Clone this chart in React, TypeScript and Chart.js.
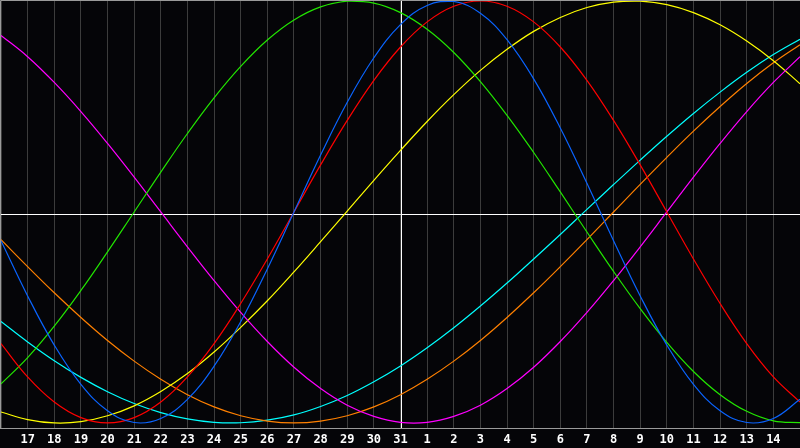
import React, { useEffect, useRef } from "react";
import { Chart, registerables } from "chart.js";

Chart.register(...registerables);

// Tick labels: one per day, first label sits at x = 0
const dayLabels = [
  "17", "18", "19", "20", "21", "22", "23", "24", "25", "26", "27", "28", "29", "30", "31",
  "1", "2", "3", "4", "5", "6", "7", "8", "9", "10", "11", "12", "13", "14",
];
// index of "today" (31) in dayLabels
const todayIndex = 14;
const midlineValue = -0.01;

// Series values, one per day from the day before "17" (x = -1) to the day after "14" (x = 29)
const physical = [
  -0.136, -0.398, -0.631, -0.817, -0.942, -0.998, -0.979, -0.888, -0.731, -0.52, -0.27,
  0, 0.27, 0.52, 0.731, 0.888, 0.979, 0.998, 0.942, 0.817, 0.631, 0.398, 0.136,
  -0.136, -0.398, -0.631, -0.817, -0.942, -0.998, -0.979, -0.888,
];
const emotional = [
  -0.624, -0.782, -0.901, -0.975, -1.0, -0.975, -0.901, -0.782, -0.624, -0.434, -0.223,
  0, 0.223, 0.434, 0.624, 0.782, 0.901, 0.975, 1.0, 0.975, 0.901, 0.782, 0.624, 0.434, 0.223,
  0, -0.223, -0.434, -0.624, -0.782, -0.901,
];
const intellectual = [
  -0.815, -0.69, -0.541, -0.372, -0.189, 0, 0.189, 0.372, 0.541, 0.69, 0.815,
  0.91, 0.972, 0.999, 0.99, 0.945, 0.866, 0.756, 0.618, 0.458, 0.282, 0.095,
  -0.095, -0.282, -0.458, -0.618, -0.756, -0.866, -0.945, -0.99, -0.999,
];
const intuitive = [
  0.837, 0.736, 0.614, 0.476, 0.325, 0.165, 0, -0.165, -0.325, -0.476, -0.614,
  -0.736, -0.837, -0.916, -0.969, -0.997, -0.997, -0.969, -0.916, -0.837, -0.736,
  -0.614, -0.476, -0.325, -0.165, 0, 0.165, 0.325, 0.476, 0.614, 0.736,
];
const aesthetic = [
  -0.948, -0.984, -1.0, -0.994, -0.966, -0.919, -0.851, -0.766, -0.664, -0.547, -0.421,
  -0.284, -0.141, 0.004, 0.15, 0.292, 0.429, 0.556, 0.671, 0.771, 0.856, 0.922,
  0.969, 0.995, 0.999, 0.983, 0.945, 0.887, 0.81, 0.717, 0.608,
];
const awareness = [
  -0.131, -0.259, -0.383, -0.5, -0.609, -0.707, -0.793, -0.866, -0.924, -0.966, -0.991,
  -1.0, -0.991, -0.966, -0.924, -0.866, -0.793, -0.707, -0.609, -0.5, -0.383, -0.259,
  -0.131, 0, 0.131, 0.259, 0.383, 0.5, 0.609, 0.707, 0.793,
];
const spiritual = [
  -0.519, -0.616, -0.705, -0.784, -0.852, -0.908, -0.951, -0.981, -0.997, -0.999, -0.987,
  -0.962, -0.922, -0.87, -0.805, -0.73, -0.644, -0.549, -0.446, -0.337, -0.223, -0.107,
  0.012, 0.13, 0.246, 0.359, 0.467, 0.568, 0.662, 0.746, 0.819,
];

const seriesList = [
  { name: "Physical", values: physical, color: "#0a64ff" },
  { name: "Emotional", values: emotional, color: "#ff0000" },
  { name: "Intellectual", values: intellectual, color: "#22e600" },
  { name: "Intuitive", values: intuitive, color: "#ff00ff" },
  { name: "Aesthetic", values: aesthetic, color: "#ffff00" },
  { name: "Awareness", values: awareness, color: "#ff8000" },
  { name: "Spiritual", values: spiritual, color: "#00ffff" },
];

const framePlugin = {
  id: "frame",
  beforeDraw(chart: any) {
    const ctx = chart.ctx;
    ctx.save();
    ctx.fillStyle = "#050508";
    ctx.fillRect(0, 0, chart.width, chart.height);
    ctx.restore();
  },
  beforeDatasetsDraw(chart: any) {
    const { ctx, chartArea, scales } = chart;
    const xp = Math.round(scales.x.getPixelForValue(todayIndex)) + 0.5;
    const yp = Math.round(scales.y.getPixelForValue(midlineValue)) + 0.5;
    ctx.save();
    ctx.strokeStyle = "#ffffff";
    ctx.lineWidth = 1;
    ctx.beginPath();
    ctx.moveTo(xp, chartArea.top);
    ctx.lineTo(xp, chartArea.bottom);
    ctx.moveTo(chartArea.left, yp);
    ctx.lineTo(chartArea.right, yp);
    ctx.stroke();
    ctx.restore();
  },
  afterDraw(chart: any) {
    const { ctx, chartArea } = chart;
    ctx.save();
    ctx.strokeStyle = "#9a9a9a";
    ctx.lineWidth = 1;
    ctx.beginPath();
    ctx.moveTo(0.5, chartArea.bottom + 0.5);
    ctx.lineTo(0.5, 0.5);
    ctx.lineTo(chartArea.right, 0.5);
    ctx.moveTo(0, chartArea.bottom + 0.5);
    ctx.lineTo(chartArea.right, chartArea.bottom + 0.5);
    ctx.stroke();
    ctx.restore();
  },
};

export default function App() {
  const canvasRef = useRef<HTMLCanvasElement | null>(null);

  useEffect(() => {
    document.body.style.margin = "0";
    document.body.style.background = "#050508";
    const canvas = canvasRef.current;
    if (!canvas) return;
    const chart = new Chart(canvas, {
      type: "line",
      data: {
        datasets: seriesList.map((s) => ({
          label: s.name,
          data: s.values.map((v, j) => ({ x: j - 1, y: v })),
          borderColor: s.color,
          backgroundColor: s.color,
          borderWidth: 1.2,
          pointRadius: 0,
          pointHoverRadius: 0,
          tension: 0.4,
          fill: false,
        })),
      },
      options: {
        animation: false,
        responsive: false,
        devicePixelRatio: 1,
        events: [],
        layout: { autoPadding: false, padding: { left: 1, top: 1, right: 0, bottom: 0 } },
        plugins: {
          legend: { display: false },
          tooltip: { enabled: false },
        },
        scales: {
          x: {
            type: "linear",
            min: -1,
            max: dayLabels.length,
            afterBuildTicks: (scale: any) => {
              const ticks = [];
              for (let k = -1; k <= dayLabels.length; k++) ticks.push({ value: k });
              scale.ticks = ticks;
            },
            afterFit: (scale: any) => {
              scale.height = 20;
              scale.paddingLeft = 0;
              scale.paddingRight = 0;
            },
            grid: {
              color: "#3c3c3c",
              lineWidth: 1,
              drawTicks: false,
            },
            border: { display: false },
            ticks: {
              autoSkip: false,
              maxRotation: 0,
              minRotation: 0,
              padding: 5,
              color: "#ffffff",
              font: { family: "DejaVu Sans Mono", size: 12, weight: "bold" },
              callback: (value: any) => {
                const lbl = dayLabels[Number(value)];
                return lbl === undefined ? "" : lbl;
              },
            },
          },
          y: {
            display: false,
            min: -1.024,
            max: 1.0,
          },
        },
      },
      plugins: [framePlugin],
    });
    return () => chart.destroy();
  }, []);

  return (
    <canvas
      ref={canvasRef}
      width={800}
      height={448}
      style={{ display: "block", width: 800, height: 448 }}
    />
  );
}
